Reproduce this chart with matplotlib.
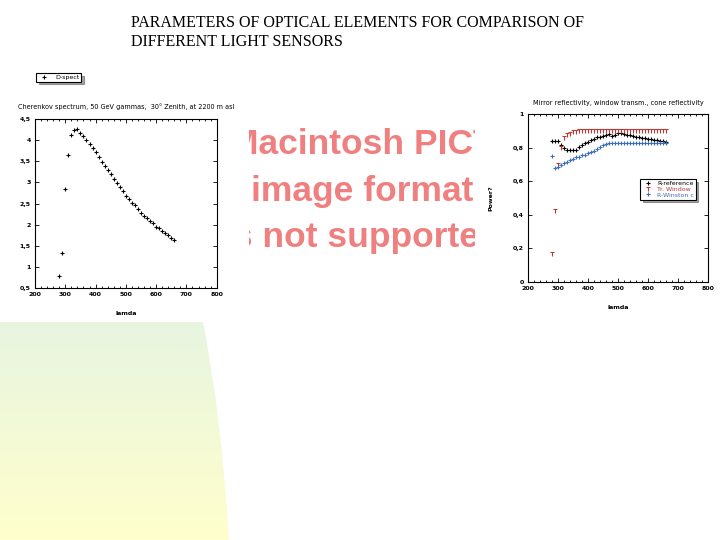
import numpy as np
import matplotlib
matplotlib.use("Agg")
import matplotlib.pyplot as plt
from matplotlib.path import Path
from matplotlib.ticker import FuncFormatter, AutoMinorLocator, MultipleLocator
from matplotlib.lines import Line2D

# data
lam = list(range(280, 670, 10))
d_spect = [0.79, 1.33, 2.84, 3.64, 4.12, 4.24, 4.26, 4.18, 4.10, 4.00,
           3.90, 3.82, 3.73, 3.61, 3.49, 3.40, 3.30, 3.19, 3.09, 2.98,
           2.90, 2.81, 2.67, 2.60, 2.51, 2.46, 2.37, 2.27, 2.22, 2.15,
           2.08, 2.04, 1.96, 1.92, 1.85, 1.80, 1.75, 1.70, 1.63]
r_reference = [0.843, 0.843, 0.843, 0.817, 0.801, 0.787, 0.787, 0.787, 0.787, 0.805,
               0.817, 0.827, 0.837, 0.847, 0.855, 0.863, 0.867, 0.871, 0.879, 0.883,
               0.873, 0.875, 0.887, 0.887, 0.885, 0.879, 0.874, 0.870, 0.867, 0.863,
               0.861, 0.859, 0.855, 0.851, 0.849, 0.845, 0.843, 0.839, 0.837]
tr_window = [0.165, 0.42, 0.70, 0.80, 0.857, 0.875, 0.885, 0.892, 0.897, 0.899,
             0.90, 0.90, 0.90, 0.90, 0.90, 0.90, 0.90, 0.90, 0.90, 0.90,
             0.90, 0.90, 0.90, 0.90, 0.90, 0.90, 0.90, 0.90, 0.90, 0.90,
             0.90, 0.90, 0.90, 0.90, 0.90, 0.90, 0.90, 0.90, 0.90]
r_winston = [0.751, 0.678, 0.688, 0.700, 0.708, 0.718, 0.726, 0.734, 0.743, 0.747,
             0.755, 0.759, 0.767, 0.775, 0.783, 0.793, 0.803, 0.815, 0.823, 0.827,
             0.827, 0.827, 0.827, 0.827, 0.827, 0.827, 0.827, 0.827, 0.827, 0.827,
             0.827, 0.827, 0.827, 0.827, 0.827, 0.827, 0.827, 0.827, 0.827]

W, H = 720, 540
fig = plt.figure(figsize=(7.2, 5.4), dpi=100)
fig.patch.set_facecolor("white")


def box(x0, y0, x1, y1):
    # pixel box (top-left origin) -> figure fraction rect
    return [x0 / W, 1 - y1 / H, (x1 - x0) / W, (y1 - y0) / H]


# background decoration (gradient shape bottom left)
bg = fig.add_axes([0, 0, 1, 1], zorder=0)
bg.set_xlim(0, W)
bg.set_ylim(H, 0)
bg.axis("off")
grad = np.linspace(0, 1, 200).reshape(-1, 1)
top_c = np.array([0.91, 0.96, 0.88])
bot_c = np.array([1.0, 1.0, 0.80])
img = top_c + (bot_c - top_c) * grad[..., None]
im = bg.imshow(img, extent=[0, 235, 540, 322], aspect="auto")
shape = Path([(0, 322), (203, 322), (222, 420), (229, 540), (0, 540), (0, 322)],
             [Path.MOVETO, Path.LINETO, Path.CURVE3, Path.CURVE3, Path.LINETO, Path.CLOSEPOLY])
im.set_clip_path(shape, transform=bg.transData)

# slide title
fig.text(131 / W, 1 - 15 / H,
         "PARAMETERS OF OPTICAL ELEMENTS FOR COMPARISON OF\nDIFFERENT LIGHT SENSORS",
         family="Liberation Serif", fontsize=11.5, va="top", ha="left", linespacing=1.25)

# "Macintosh PICT" placeholder (clipped like on the slide)
ph = fig.add_axes(box(249, 118, 475, 262), zorder=1)
ph.set_xlim(0, 1)
ph.set_ylim(0, 1)
ph.axis("off")
ph.text(0.5, 0.49, "Macintosh PICT\nimage format\nis not supported", ha="center", va="center",
        family="Liberation Sans", weight="bold", fontsize=25.5,
        color="#f08080", linespacing=1.52, clip_on=True)


def comma_fmt(v, pos):
    s = ("%g" % round(v, 2)).replace(".", ",")
    return s


def style(ax):
    ax.set_xlim(200, 800)
    ax.xaxis.set_major_locator(MultipleLocator(100))
    ax.xaxis.set_minor_locator(AutoMinorLocator(5))
    ax.tick_params(which="both", direction="in", top=True, right=True, width=0.6)
    ax.tick_params(which="major", length=3, labelsize=4.5, pad=3)
    ax.tick_params(which="minor", length=1.5)
    ax.yaxis.set_major_formatter(FuncFormatter(comma_fmt))
    for lab in ax.get_xticklabels() + ax.get_yticklabels():
        lab.set_fontweight("bold")
    for sp in ax.spines.values():
        sp.set_linewidth(0.8)
    ax.set_xlabel("lamda", fontsize=4.5, fontweight="bold", labelpad=10)


# left chart: Cherenkov spectrum
ax1 = fig.add_axes(box(35, 119, 216.7, 288.3), zorder=2)
ax1.plot(lam, d_spect, linestyle="none", marker="+", color="black", markersize=3.5, mew=0.8)
ax1.set_ylim(0.5, 4.5)
ax1.yaxis.set_major_locator(MultipleLocator(0.5))
style(ax1)
ax1.set_title("Cherenkov spectrum, 50 GeV gammas,  30° Zenith, at 2200 m asl", fontsize=4.7, pad=7)

# right chart: reflectivities
ax2 = fig.add_axes(box(528.3, 114.3, 708.3, 281.7), zorder=2)
t_marker = Path([(-1, 1), (1, 1), (0, 1), (0, -1)],
                [Path.MOVETO, Path.LINETO, Path.MOVETO, Path.LINETO])
red = "#b83a3a"
blue = "#3b70b8"
ax2.plot(lam, r_reference, linestyle="none", marker="+", color="black", markersize=3.5, mew=0.8,
         label="R-reference")
ax2.plot(lam, tr_window, linestyle="none", marker=t_marker, color=red, markersize=3, mew=0.8,
         label="Tr. Window")
ax2.plot(lam, r_winston, linestyle="none", marker="+", color=blue, markersize=3.5, mew=0.8,
         label="R-Winston c")
ax2.set_ylim(0, 1)
ax2.yaxis.set_major_locator(MultipleLocator(0.2))
style(ax2)
ax2.set_title("Mirror reflectivity, window transm., cone reflectivity", fontsize=4.7, pad=7)
ax2.set_ylabel("Power?", fontsize=4.5, fontweight="bold", labelpad=14)
leg2 = ax2.legend(loc="upper left", bbox_to_anchor=((640 - 528.3) / 180, (281.7 - 179) / 167.4),
                  fontsize=4.5, frameon=True, fancybox=False, shadow=True, edgecolor="black",
                  borderpad=0.3, labelspacing=0.05, handlelength=1.8, handletextpad=0.6,
                  borderaxespad=0)
leg2.get_frame().set_linewidth(0.8)
for txt, c in zip(leg2.get_texts(), ["black", red, blue]):
    txt.set_color(c)

# top legend for the left chart
h = Line2D([], [], linestyle="none", marker="+", color="black", markersize=3.5, mew=0.8)
leg1 = fig.legend([h], ["D-spect"], loc="upper left", bbox_to_anchor=(36 / W, 1 - 73 / H),
                  fontsize=4.5, frameon=True, fancybox=False, shadow=True, edgecolor="black",
                  borderpad=0.25, handlelength=2.0, handletextpad=0.8, borderaxespad=0)
leg1.get_frame().set_linewidth(0.8)

fig.savefig("out.png", dpi=100, facecolor="white")
